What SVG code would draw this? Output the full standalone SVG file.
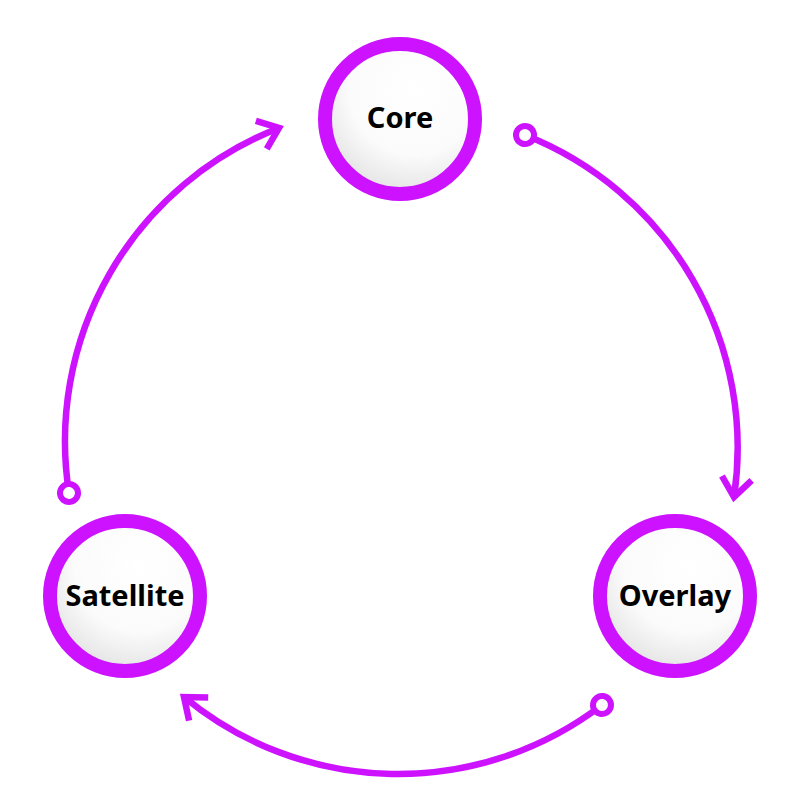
<svg xmlns="http://www.w3.org/2000/svg" width="800" height="800" viewBox="0 0 800 800">
  <style>
    .ring { fill: url(#sphere); stroke: #cc12ff; stroke-width: 14; }
    .label { font-family: "Noto Sans", "DejaVu Sans", sans-serif; font-weight: bold; font-size: 29px; fill: #000; text-anchor: middle; }
    .conn { fill: none; stroke: #cc12ff; stroke-width: 6.5; marker-start: url(#dot); marker-end: url(#chev); }
  </style>
  <defs>
    <radialGradient id="sphere" cx="0.6" cy="0.3" r="0.8">
      <stop offset="0" stop-color="#ffffff"/>
      <stop offset="0.55" stop-color="#fbfbfb"/>
      <stop offset="1" stop-color="#dcdcdc"/>
    </radialGradient>
    <marker id="dot" markerUnits="userSpaceOnUse" markerWidth="30" markerHeight="30" refX="15" refY="15" orient="auto" overflow="visible">
      <circle cx="15" cy="15" r="9" fill="#ffffff" stroke="#cc12ff" stroke-width="6"/>
    </marker>
    <marker id="chev" markerUnits="userSpaceOnUse" markerWidth="40" markerHeight="40" refX="0" refY="0" orient="auto" overflow="visible">
      <path d="M -19 -15 L 0 0 L -19 15" fill="none" stroke="#cc12ff" stroke-width="6.5" stroke-linejoin="miter"/>
    </marker>
  </defs>
  <rect width="800" height="800" fill="#ffffff"/>
  <g id="connectors">
    <path class="conn" d="M 525 135 A 336 336 0 0 1 734 497"/>
    <path class="conn" d="M 602 705 A 336 336 0 0 1 184 697"/>
    <path class="conn" d="M 69 493 A 336 336 0 0 1 279 128"/>
  </g>
  <g id="core">
    <circle class="ring" cx="400" cy="119" r="75"/>
    <text class="label" x="400" y="128">Core</text>
  </g>
  <g id="satellite">
    <circle class="ring" cx="125" cy="596" r="75"/>
    <text class="label" x="125" y="606">Satellite</text>
  </g>
  <g id="overlay">
    <circle class="ring" cx="675" cy="596" r="75"/>
    <text class="label" x="675" y="606">Overlay</text>
  </g>
</svg>
